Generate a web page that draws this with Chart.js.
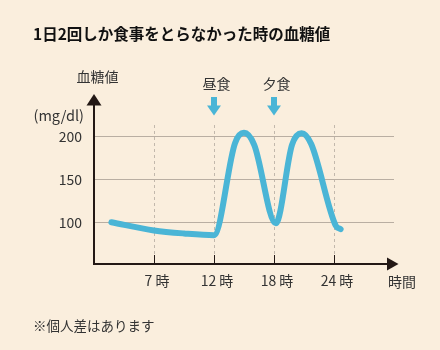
<!DOCTYPE html>
<html>
<head>
<meta charset="utf-8">
<script src="https://cdn.jsdelivr.net/npm/chart.js@4/dist/chart.umd.min.js"></script>
<style>
  html, body { margin: 0; padding: 0; background: #FAEEDD; }
  #wrap { position: relative; width: 440px; height: 350px; }
</style>
</head>
<body>
<div id="wrap"><canvas id="c" width="440" height="350"></canvas></div>
<script>
// ---- data ----
const titleText = '1日2回しか食事をとらなかった時の血糖値';
const yAxisName = '血糖値';
const yUnit = '(mg/dl)';
const xAxisName = '時間';
const footnote = '※個人差はあります';

const xTickLabels = ['7 時', '12 時', '18 時', '24 時'];
const xTickPos = [1, 2, 3, 4];
const yTicks = [100, 150, 200];

const mealLabels = ['昼食', '夕食'];
const mealPos = [2, 3];

// curve: time position (in axis slots) and blood sugar (mg/dl)
const timePos = [0.29, 1.0, 1.5, 2.0, 2.35, 2.5, 2.67, 3.03, 3.3, 3.46, 3.62, 4.03, 4.11];
const glucose = [100, 90.5, 87, 85, 192, 204, 190, 98.8, 190, 203.5, 191, 96, 92];

// ---- style ----
const FONT = "'Noto Sans CJK JP', 'Noto Sans', sans-serif";
const BLUE = '#4AB5D6';
const AXIS = '#231815';
const TEXT = '#333333';

const decor = {
  id: 'decor',
  afterDraw(chart) {
    const { ctx, chartArea: a, scales: { x } } = chart;
    ctx.save();
    // tick marks (inside)
    ctx.strokeStyle = AXIS;
    ctx.lineWidth = 1;
    xTickPos.forEach(v => {
      const px = Math.round(x.getPixelForValue(v)) + 0.5;
      ctx.beginPath(); ctx.moveTo(px, a.bottom - 9); ctx.lineTo(px, a.bottom); ctx.stroke();
    });
    // axes
    ctx.lineWidth = 2;
    ctx.beginPath();
    ctx.moveTo(a.left, a.bottom + 1); ctx.lineTo(a.left, 104);
    ctx.moveTo(a.left - 1, a.bottom); ctx.lineTo(389, a.bottom);
    ctx.stroke();
    ctx.fillStyle = AXIS;
    ctx.beginPath();
    ctx.moveTo(a.left, 94); ctx.lineTo(a.left - 7.5, 105.5); ctx.lineTo(a.left + 7.5, 105.5); ctx.closePath(); ctx.fill();
    ctx.beginPath();
    ctx.moveTo(398.5, a.bottom); ctx.lineTo(387, a.bottom - 6.5); ctx.lineTo(387, a.bottom + 6.5); ctx.closePath(); ctx.fill();

    // texts
    ctx.textBaseline = 'middle';
    ctx.fillStyle = '#111';
    ctx.font = 'bold 15.5px ' + FONT;
    ctx.textAlign = 'left';
    ctx.fillText(titleText, 33, 34.5);

    ctx.fillStyle = TEXT;
    ctx.font = '14px ' + FONT;
    ctx.textAlign = 'center';
    ctx.fillText(yAxisName, 97.5, 77);
    ctx.textAlign = 'right';
    ctx.font = '14.5px ' + FONT;
    ctx.fillText(yUnit, 84, 115);
    ctx.font = '14px ' + FONT;
    ctx.textAlign = 'left';
    ctx.fillText(xAxisName, 388, 281.5);

    ctx.font = '13.5px ' + FONT;
    ctx.fillText(footnote, 33, 326);

    // meal arrows + labels
    mealLabels.forEach((lab, i) => {
      const px = x.getPixelForValue(mealPos[i]);
      ctx.fillStyle = TEXT;
      ctx.font = '14px ' + FONT;
      ctx.textAlign = 'center';
      ctx.fillText(lab, px + 2.5, 84);
      ctx.fillStyle = BLUE;
      ctx.fillRect(px - 3, 97, 6, 9);
      ctx.beginPath();
      ctx.moveTo(px - 7, 105.5); ctx.lineTo(px + 7, 105.5); ctx.lineTo(px, 115.5); ctx.closePath(); ctx.fill();
    });
    ctx.restore();
  }
};

new Chart(document.getElementById('c'), {
  type: 'line',
  data: {
    datasets: [{
      data: timePos.map((t, i) => ({ x: t, y: glucose[i] })),
      borderColor: BLUE,
      borderWidth: 6,
      borderCapStyle: 'round',
      borderJoinStyle: 'round',
      pointRadius: 0,
      fill: false,
      cubicInterpolationMode: 'monotone',
      clip: false
    }]
  },
  options: {
    responsive: false,
    animation: false,
    devicePixelRatio: 1,
    layout: { padding: { left: 0, top: 125, right: 46, bottom: 0 } },
    plugins: { legend: { display: false }, tooltip: { enabled: false }, title: { display: false } },
    scales: {
      x: {
        type: 'linear',
        min: 0, max: 5,
        afterBuildTicks: s => { s.ticks = xTickPos.map(v => ({ value: v })); },
        afterFit: s => { s.height = 86; },
        ticks: {
          callback: (v) => { const i = xTickPos.indexOf(v); return i >= 0 ? xTickLabels[i] : ''; },
          font: { family: FONT, size: 14 },
          color: TEXT,
          padding: 8,
          labelOffset: 3,
          maxRotation: 0,
          autoSkip: false
        },
        grid: { color: '#C2B8AC', lineWidth: 1, drawTicks: false },
        border: { display: false, dash: [3, 3] }
      },
      y: {
        type: 'linear',
        min: 51.5, max: 213.1,
        afterBuildTicks: s => { s.ticks = yTicks.map(v => ({ value: v })); },
        afterFit: s => { s.width = 94; },
        ticks: {
          callback: v => String(v),
          font: { family: FONT, size: 14 },
          color: TEXT,
          padding: 12
        },
        grid: { color: '#B9AEA2', lineWidth: 1, drawTicks: false },
        border: { display: false }
      }
    }
  },
  plugins: [decor]
});
</script>
</body>
</html>
